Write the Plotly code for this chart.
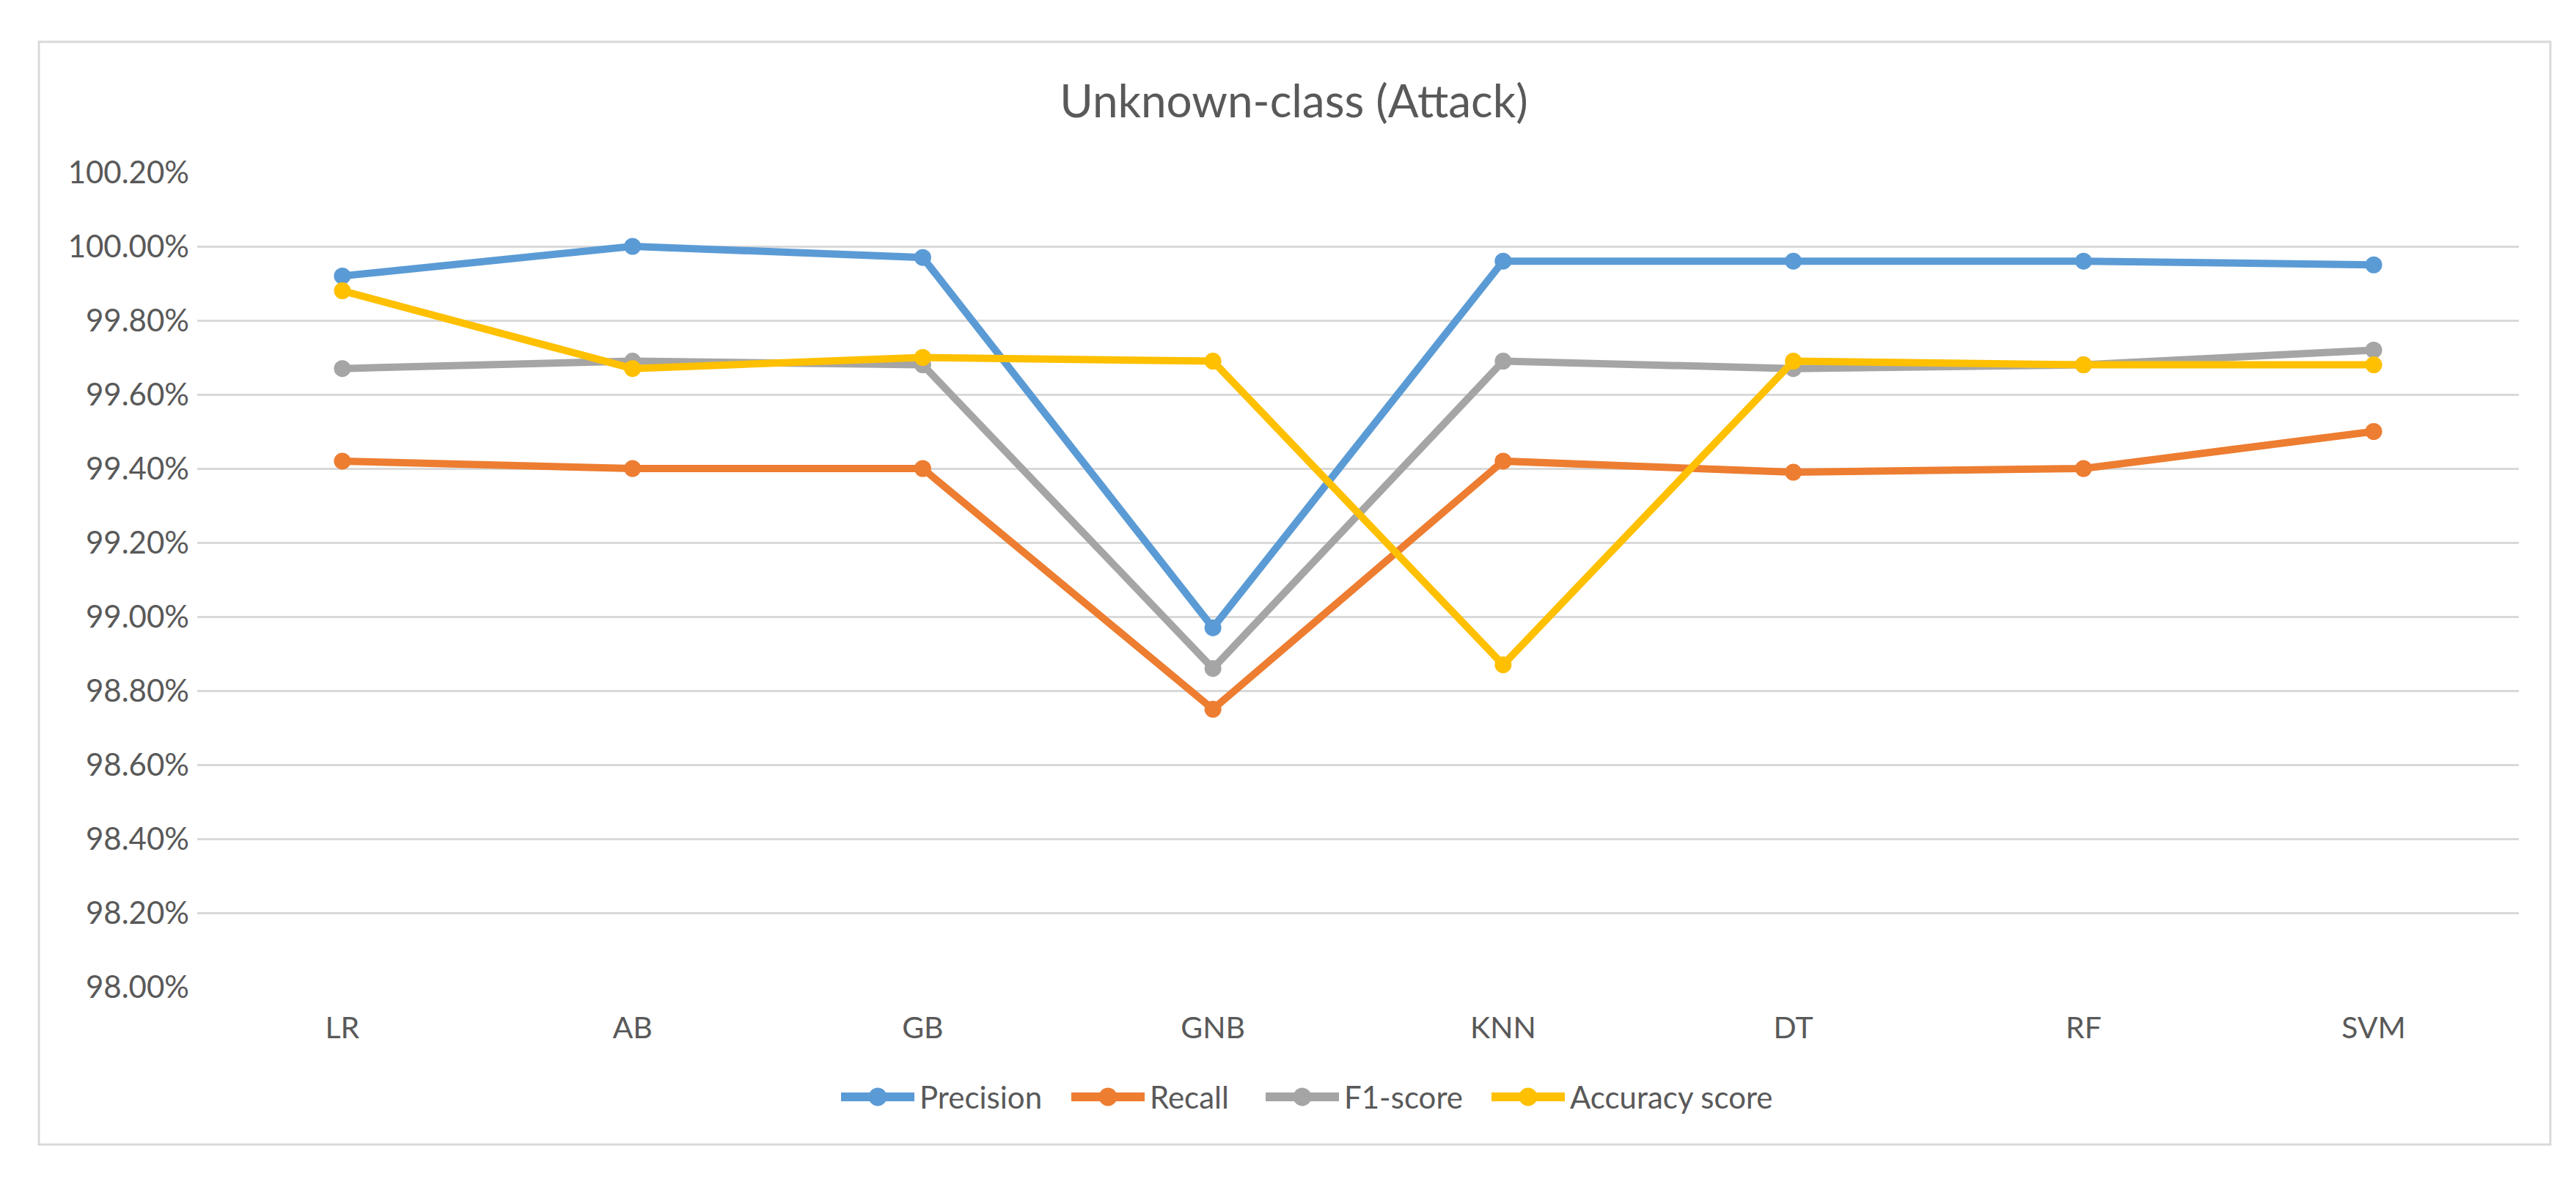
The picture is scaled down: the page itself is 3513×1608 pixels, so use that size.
import plotly.graph_objects as go

# ---- data (percent) ----
categories = ["LR", "AB", "GB", "GNB", "KNN", "DT", "RF", "SVM"]
precision = [99.92, 100.00, 99.97, 98.97, 99.96, 99.96, 99.96, 99.95]
recall = [99.42, 99.40, 99.40, 98.75, 99.42, 99.39, 99.40, 99.50]
f1_score = [99.67, 99.69, 99.68, 98.86, 99.69, 99.67, 99.68, 99.72]
accuracy = [99.88, 99.67, 99.70, 99.69, 98.87, 99.69, 99.68, 99.68]

series_names = ["Precision", "Recall", "F1-score", "Accuracy score"]
series_values = [precision, recall, f1_score, accuracy]
series_colors = ["#5B9BD5", "#ED7D31", "#A5A5A5", "#FFC000"]

title_text = "Unknown-class (Attack)"
y_ticks = [98.0 + 0.2 * i for i in range(12)]

# ---- layout geometry (pixels) ----
W, H = 3513, 1608
L, R, T, B = 261, 86, 227, 270
plot_w = W - L - R
plot_h = H - T - B

FONT = "Lato"
TXT = "#595959"
GRID = "#D9D9D9"
LINE_W = 10
MARKER = 23


def px_x(p):
    return (p - L) / plot_w


def px_y(p):
    return (H - B - p) / plot_h


fig = go.Figure()
for name, vals, col in zip(series_names, series_values, series_colors):
    fig.add_trace(go.Scatter(
        x=categories, y=vals, name=name, mode="lines+markers",
        line=dict(color=col, width=LINE_W),
        marker=dict(color=col, size=MARKER, symbol="circle"),
        showlegend=False,
    ))

# outer chart border
fig.add_shape(
    type="rect", xref="paper", yref="paper",
    x0=px_x(45), x1=px_x(3470), y0=px_y(1553), y1=px_y(49),
    line=dict(color=GRID, width=3), fillcolor="rgba(0,0,0,0)", layer="below",
)

# legend (Excel style: long line with marker in the middle)
legend_y = 1488
legend_sym_x = [1139, 1453, 1718, 2026]
sym_len = 100
gap = 5
for name, col, sx in zip(series_names, series_colors, legend_sym_x):
    fig.add_shape(type="line", xref="paper", yref="paper",
                  x0=px_x(sx), x1=px_x(sx + sym_len),
                  y0=px_y(legend_y), y1=px_y(legend_y),
                  line=dict(color=col, width=LINE_W + 2))
    cx = sx + sym_len / 2
    r = MARKER / 2 + 1
    fig.add_shape(type="circle", xref="paper", yref="paper",
                  x0=px_x(cx - r), x1=px_x(cx + r),
                  y0=px_y(legend_y + r), y1=px_y(legend_y - r),
                  line=dict(color=col, width=0), fillcolor=col)
    fig.add_annotation(text=name, xref="paper", yref="paper",
                       x=px_x(sx + sym_len + gap), y=px_y(legend_y),
                       xanchor="left", yanchor="middle", showarrow=False,
                       font=dict(family=FONT, size=42, color=TXT))

fig.update_layout(
    width=W, height=H,
    margin=dict(l=L, r=R, t=T, b=B),
    paper_bgcolor="white", plot_bgcolor="white",
    font=dict(family=FONT, color=TXT, size=40),
    title=dict(text=title_text, x=0.5, xref="container", xanchor="center",
               y=1 - 130 / H, yref="container", yanchor="middle",
               font=dict(family=FONT, size=62, color=TXT)),
    showlegend=False,
    xaxis=dict(type="category", range=[-0.5, len(categories) - 0.5],
               showgrid=False, showline=False, zeroline=False,
               ticks="", ticklabelstandoff=28,
               tickfont=dict(family=FONT, size=41, color=TXT)),
    yaxis=dict(range=[98.0, 100.2], tickvals=y_ticks,
               ticktext=[f"{v:.2f}%" for v in y_ticks],
               showgrid=True, gridcolor=GRID, gridwidth=3,
               showline=False, zeroline=False, ticks="",
               ticklabelstandoff=10,
               tickfont=dict(family=FONT, size=42, color=TXT)),
)

fig.write_html("out.html")
